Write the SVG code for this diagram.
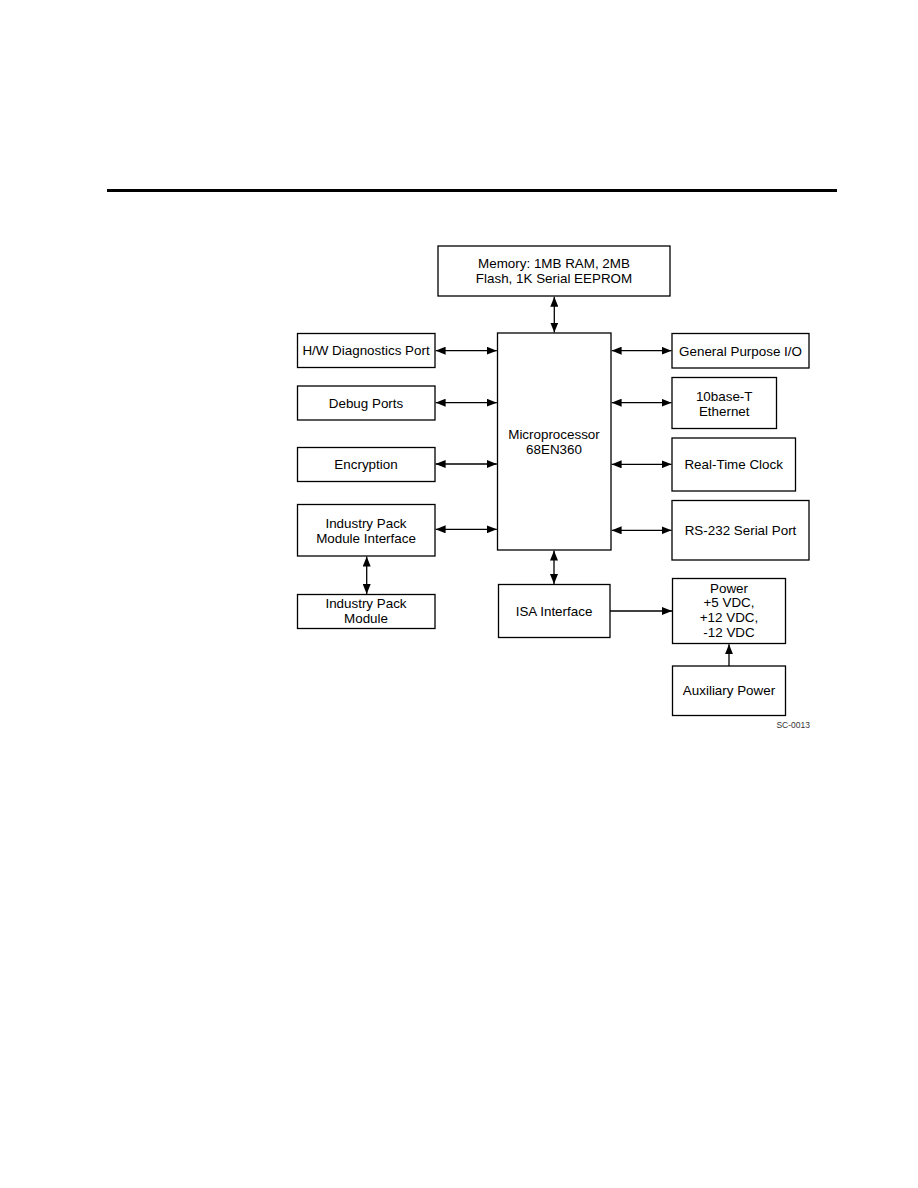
<svg xmlns="http://www.w3.org/2000/svg" width="918" height="1188" viewBox="0 0 918 1188">
<style>
.box{fill:#fff;stroke:#000;stroke-width:1.3}
.t{font-family:"Liberation Sans",Arial,sans-serif;font-size:13.4px;fill:#000;text-anchor:middle}
.c{stroke:#000;stroke-width:1.3;fill:none}
.d{marker-start:url(#ah);marker-end:url(#ah)}
.s{marker-end:url(#ah)}
.sc{font-family:"Liberation Sans",Arial,sans-serif;font-size:8.5px;fill:#333;text-anchor:end}
</style>
<defs>
<marker id="ah" viewBox="0 0 10 8" refX="10" refY="4" markerWidth="10" markerHeight="8" markerUnits="userSpaceOnUse" orient="auto-start-reverse">
<path d="M0,0 L10,4 L0,8 z" fill="#000"/>
</marker>
</defs>
<rect x="107" y="189" width="730" height="3" fill="#000"/>

<g id="memory"><rect class="box" x="438" y="246" width="232" height="50"/>
<text class="t" x="554" y="268.3">Memory: 1MB RAM, 2MB</text>
<text class="t" x="554" y="283">Flash, 1K Serial EEPROM</text></g>

<g id="micro"><rect class="box" x="497.5" y="333" width="113.5" height="217"/>
<text class="t" x="554" y="438.5">Microprocessor</text>
<text class="t" x="554" y="453.5">68EN360</text></g>

<g id="hwdiag"><rect class="box" x="297.5" y="333.5" width="137.5" height="34"/>
<text class="t" x="366" y="355">H/W Diagnostics Port</text></g>

<g id="debug"><rect class="box" x="297.5" y="386" width="137.5" height="34"/>
<text class="t" x="366" y="407.5">Debug Ports</text></g>

<g id="encryption"><rect class="box" x="297.5" y="447.5" width="137.5" height="34"/>
<text class="t" x="366" y="469">Encryption</text></g>

<g id="ipmi"><rect class="box" x="297.5" y="504.5" width="137.5" height="51.5"/>
<text class="t" x="366" y="527.8">Industry Pack</text>
<text class="t" x="366" y="542.8">Module Interface</text></g>

<g id="ipm"><rect class="box" x="297.5" y="594.5" width="137.5" height="34"/>
<text class="t" x="366" y="608.4">Industry Pack</text>
<text class="t" x="366" y="623.3">Module</text></g>

<g id="isa"><rect class="box" x="498.5" y="584.5" width="111.5" height="53"/>
<text class="t" x="554" y="616">ISA Interface</text></g>

<g id="gpio"><rect class="box" x="672" y="333.5" width="137" height="34.5"/>
<text class="t" x="740.5" y="355.5">General Purpose I/O</text></g>

<g id="ethernet"><rect class="box" x="672" y="377.5" width="104.5" height="51"/>
<text class="t" x="724.2" y="401.2">10base-T</text>
<text class="t" x="724.2" y="415.5">Ethernet</text></g>

<g id="rtc"><rect class="box" x="672" y="438" width="123.5" height="53"/>
<text class="t" x="733.7" y="469">Real-Time Clock</text></g>

<g id="rs232"><rect class="box" x="672" y="500.5" width="137" height="59.5"/>
<text class="t" x="740.5" y="535">RS-232 Serial Port</text></g>

<g id="power"><rect class="box" x="672.5" y="578.5" width="113" height="65"/>
<text class="t" x="729" y="592.8">Power</text>
<text class="t" x="729" y="607.4">+5 VDC,</text>
<text class="t" x="729" y="622.2">+12 VDC,</text>
<text class="t" x="729" y="637">-12 VDC</text></g>

<g id="aux"><rect class="box" x="672.5" y="666" width="113" height="49.5"/>
<text class="t" x="729" y="695">Auxiliary Power</text></g>

<text class="sc" x="810" y="728">SC-0013</text>

<g id="connectors">
<line class="c d" x1="554.3" y1="296.7" x2="554.3" y2="332.5"/>
<line class="c d" x1="435.6" y1="350.7" x2="496.8" y2="350.7"/>
<line class="c d" x1="435.6" y1="402.7" x2="496.8" y2="402.7"/>
<line class="c d" x1="435.6" y1="464" x2="496.8" y2="464"/>
<line class="c d" x1="435.6" y1="529.3" x2="496.8" y2="529.3"/>
<line class="c d" x1="366.7" y1="556.6" x2="366.7" y2="594"/>
<line class="c d" x1="554" y1="550.6" x2="554" y2="584"/>
<line class="c d" x1="611.6" y1="350.7" x2="671.5" y2="350.7"/>
<line class="c d" x1="611.6" y1="402.7" x2="671.5" y2="402.7"/>
<line class="c d" x1="611.6" y1="464.3" x2="671.5" y2="464.3"/>
<line class="c d" x1="611.6" y1="530.3" x2="671.5" y2="530.3"/>
<line class="c s" x1="610" y1="611" x2="672" y2="611"/>
<line class="c s" x1="729" y1="666" x2="729" y2="644.2"/>
</g>
</svg>
